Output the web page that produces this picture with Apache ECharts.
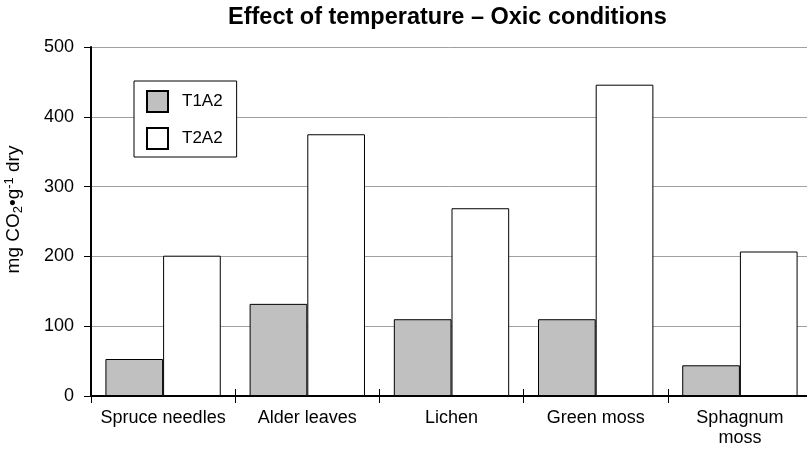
<!DOCTYPE html>
<html>
<head>
<meta charset="utf-8">
<title>Effect of temperature – Oxic conditions</title>
<script src="https://cdn.jsdelivr.net/npm/echarts@6/dist/echarts.min.js"></script>
<style>
  html, body { margin: 0; padding: 0; background: #fff; }
  #chart { width: 807px; height: 452px; }
</style>
</head>
<body>
<div id="chart"></div>
<script>
// Substrate categories along the x axis
const categories = ['Spruce needles', 'Alder leaves', 'Lichen', 'Green moss', 'Sphagnum\nmoss'];
// Series names
const seriesNames = ['T1A2', 'T2A2'];
// CO2 production, mg CO2 per g dry weight
const t1a2 = [53, 132, 110, 110, 44];
const t2a2 = [201, 375, 269, 446, 207];
// Value axis range
const yMin = 0;
const yMax = 500;
const yStep = 100;

const FONT = "'Liberation Sans', Arial, Helvetica, sans-serif";

const chart = echarts.init(document.getElementById('chart'), null, { renderer: 'canvas' });

chart.setOption({
  backgroundColor: '#ffffff',
  animation: false,
  textStyle: { fontFamily: FONT, color: '#000' },
  title: {
    text: 'Effect of temperature – Oxic conditions',
    left: 228,
    top: 6,
    padding: 0,
    textStyle: { fontFamily: FONT, fontSize: 23.5, fontWeight: 'bold', color: '#000' }
  },
  legend: {
    orient: 'vertical',
    left: 134,
    top: 81,
    data: seriesNames,
    icon: 'rect',
    backgroundColor: '#fff',
    borderColor: '#000',
    borderWidth: 1,
    padding: [9, 14, 7, 12],
    itemWidth: 21,
    itemHeight: 21,
    itemGap: 14,
    textStyle: { fontFamily: FONT, fontSize: 17, lineHeight: 21, color: '#000', padding: [0, 0, 0, 9] }
  },
  grid: { left: 91, top: 47, bottom: 56, right: -5, containLabel: false, outerBoundsMode: 'none' },
  xAxis: [
    {
      type: 'category',
      data: categories,
      axisLine: { show: true, lineStyle: { color: '#000', width: 2 } },
      axisTick: { show: true, alignWithLabel: false, length: 7, lineStyle: { color: '#000', width: 1 } },
      axisLabel: { fontFamily: FONT, fontSize: 18, color: '#000', margin: 12, lineHeight: 20, interval: 0 },
      splitLine: { show: false }
    },
    {
      // second category axis on the same baseline: its inward ticks make the tick marks cross the axis
      type: 'category',
      data: categories,
      position: 'bottom',
      axisLine: { show: false },
      axisTick: { show: true, inside: true, length: 7, lineStyle: { color: '#000', width: 1 } },
      axisLabel: { show: false },
      splitLine: { show: false }
    }
  ],
  yAxis: {
    type: 'value',
    min: yMin,
    max: yMax,
    interval: yStep,
    name: '{t|mg CO}{sub|2}{t|•g}{sup|-1}{t| dry}',
    nameLocation: 'middle',
    nameGap: 66,
    nameRotate: 90,
    nameTextStyle: {
      padding: [0, 0, 0, 24],
      rich: {
        t: { fontFamily: FONT, fontSize: 19, color: '#000' },
        sub: { fontFamily: FONT, fontSize: 13, color: '#000', verticalAlign: 'bottom', padding: [9, 0, 0, 0] },
        sup: { fontFamily: FONT, fontSize: 13, color: '#000', verticalAlign: 'top', padding: [0, 0, 9, 0] }
      }
    },
    axisLine: { show: true, lineStyle: { color: '#000', width: 2 } },
    axisTick: { show: true, length: 7, lineStyle: { color: '#000', width: 1 } },
    axisLabel: { fontFamily: FONT, fontSize: 18, color: '#000', margin: 17 },
    splitLine: { show: true, lineStyle: { color: '#a0a0a0', width: 1 } }
  },
  series: [
    {
      name: seriesNames[0],
      type: 'bar',
      data: t1a2,
      barWidth: '40%',
      barGap: '0%',
      itemStyle: { color: '#c0c0c0', borderColor: '#000', borderWidth: 1 }
    },
    {
      name: seriesNames[1],
      type: 'bar',
      data: t2a2,
      barWidth: '40%',
      barGap: '0%',
      itemStyle: { color: '#ffffff', borderColor: '#000', borderWidth: 1 }
    }
  ]
});
</script>
</body>
</html>
